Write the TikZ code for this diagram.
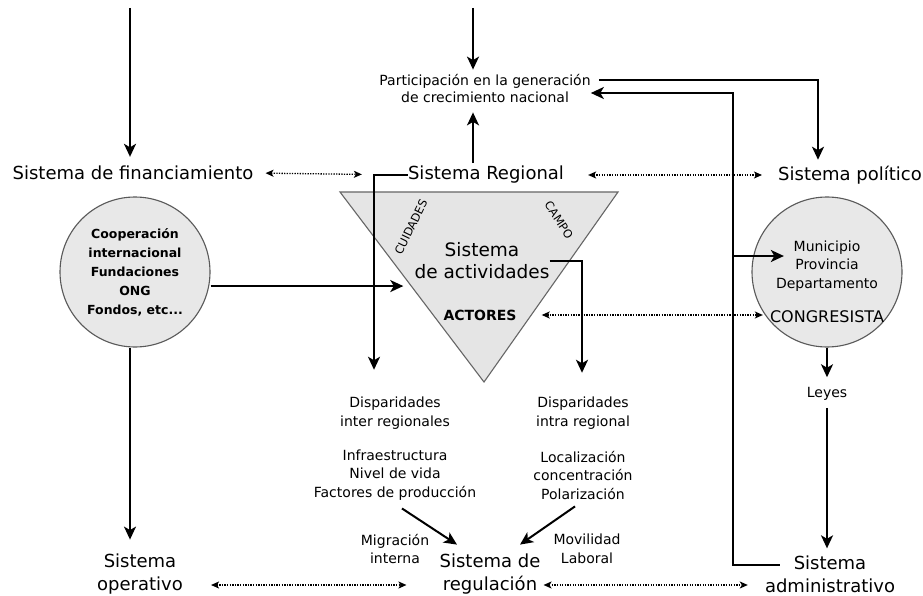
\documentclass[tikz,border=0pt]{standalone}
\usepackage{fontspec}
\setmainfont{DejaVu Sans}
\usetikzlibrary{arrows.meta,calc}
\begin{document}
\begin{tikzpicture}[x=1pt,y=-1pt,
  lbl/.style={inner sep=0pt, align=center, font=\fontsize{18}{23}\selectfont},
  sml/.style={inner sep=0pt, align=center, font=\fontsize{14}{18.5}\selectfont},
  arr/.style={line width=2pt, -{Stealth[length=13pt,width=12pt,inset=3.5pt]}},
  dotarr/.style={line width=1.3pt, dash pattern=on 1.3pt off 1.3pt,
     {Stealth[length=8pt,width=7pt,inset=2pt]}-{Stealth[length=8pt,width=7pt,inset=2pt]}},
  blob/.style={circle, draw=black!65, line width=1.1pt, fill=black!9, minimum size=150pt, inner sep=0pt}]
\useasboundingbox (0,0) rectangle (923,596);
\fill[white] (0,0) rectangle (923,596);

% triangle
\coordinate (tl) at (340,192);
\coordinate (tr) at (618,192);
\coordinate (tb) at (484,382);
\draw[draw=black!60, line width=1.1pt, fill=black!10] (tl) -- (tr) -- (tb) -- cycle;

% labels
\node[lbl] (fin) at (133,173) {Sistema de financiamiento};
\node[lbl] (reg) at (486,175) {Sistema Regional};
\node[lbl] (pol) at (850,175) {Sistema político};
\node[sml, font=\fontsize{14}{17}\selectfont] (part) at (485,89) {Participación en la generación\\de crecimiento nacional};

\node[inner sep=0pt, align=center, font=\fontsize{18.5}{22}\selectfont] (act) at (482,261) {Sistema\\de actividades};
\node[inner sep=0pt, font=\bfseries\fontsize{14}{15}\selectfont] (actores) at (480,315) {ACTORES};
\node[inner sep=0pt, font=\fontsize{11.5}{12}\selectfont, rotate=64] (ciu) at (411,227) {CUIDADES};
\node[inner sep=0pt, font=\fontsize{11.5}{12}\selectfont, rotate=-57] (campo) at (559,220) {CAMPO};

\node[blob, font=\bfseries\fontsize{12.5}{19}\selectfont, align=center] (coop) at (135,272)
  {Cooperación\\internacional\\Fundaciones\\ONG\\Fondos, etc...};
\node[blob] (muni) at (827,272) {};
\node[inner sep=0pt, align=center, font=\fontsize{14}{18.5}\selectfont] (mpd) at (827,266) {Municipio\\Provincia\\Departamento};
\node[inner sep=0pt, font=\fontsize{16}{17}\selectfont] (cong) at (827,317) {CONGRESISTA};

\node[sml] (leyes) at (827,394) {Leyes};
\node[lbl] (oper) at (140,574) {Sistema\\operativo};
\node[lbl] (regu) at (490,574) {Sistema de\\regulación};
\node[lbl] (adm) at (830,574) {Sistema\\administrativo};

\node[sml] (dinter) at (395,413) {Disparidades\\inter regionales};
\node[sml] (finter) at (395,475) {Infraestructura\\Nivel de vida\\Factores de producción};
\node[sml] (dintra) at (583,413) {Disparidades\\intra regional};
\node[sml] (fintra) at (583,475) {Localización\\concentración\\Polarización};
\node[sml] (migr) at (395,549) {Migración\\interna};
\node[sml] (movi) at (587,549) {Movilidad\\Laboral};

% helper coordinates
\coordinate (src1) at (130,8);
\coordinate (src2) at (473,8);
\coordinate (col) at (473,0);
\coordinate (cR) at (818,80);
\coordinate (cA) at (733,565);
\coordinate (cB) at (733,93);
\coordinate (cM) at (733,256);
\coordinate (k1) at (374,0);
\coordinate (k2) at (582,0);
\coordinate (tin) at ($(tl)!0.495!(tb)$);
\coordinate (k3) at ([xshift=-5pt]coop.south);

% solid connectors
\draw[arr, shorten >=9pt] (src1) -- (src1 |- fin.north);
\draw[arr, shorten >=5pt] (src2) -- (src2 |- part.north);
\draw[arr, shorten <=3pt, shorten >=9pt] (col |- reg.north) -- (col |- part.south);
\draw[arr, shorten >=6pt] ([yshift=9pt,xshift=8pt]part.east) -- (cR) -- (cR |- pol.north);
\draw[arr] ([yshift=9pt,xshift=15pt]adm.west) -- (cA) -- (cB) -- ([yshift=-4pt]part.east);
\draw[arr, shorten >=-8pt] (cM) -- (cM -| mpd.west);
\draw[arr, shorten >=8pt] (coop.east |- tin) -- (tin);
\draw[arr, shorten >=14pt] (k3) -- (k3 |- oper.north);
\draw[arr, shorten >=27pt] (reg.west) -- (reg.west -| k1) -- (k1 |- dinter.north);
\draw[arr, shorten >=24pt] (act.east) -- (act.east -| k2) -- (k2 |- dintra.north);
\draw[arr, shorten >=10pt] (muni.south) -- (leyes.north);
\draw[arr, shorten <=7pt, shorten >=7pt] (leyes.south) -- (leyes.south |- adm.north);
\draw[arr] ([xshift=7pt,yshift=-8pt]finter.south) -- ([xshift=-33pt,yshift=9pt]regu.north);
\draw[arr] ([xshift=-8pt,yshift=-7pt]fintra.south) -- ([xshift=30pt,yshift=9pt]regu.north);

% dotted connectors
\draw[dotarr, shorten <=12pt, shorten >=46pt] (fin.east) -- (reg.west);
\draw[dotarr, shorten <=24pt, shorten >=16pt] (reg.east) -- (pol.west);
\draw[dotarr, shorten <=25pt, shorten >=7pt] (actores.east) -- (actores.east -| cong.west);
\draw[dotarr] ([yshift=-11pt,xshift=28pt]oper.east) -- ([yshift=-11pt,xshift=-33pt]regu.west);
\draw[dotarr] ([yshift=-11pt,xshift=3pt]regu.east) -- ([yshift=-11pt,xshift=-17pt]adm.west);
\end{tikzpicture}
\end{document}
